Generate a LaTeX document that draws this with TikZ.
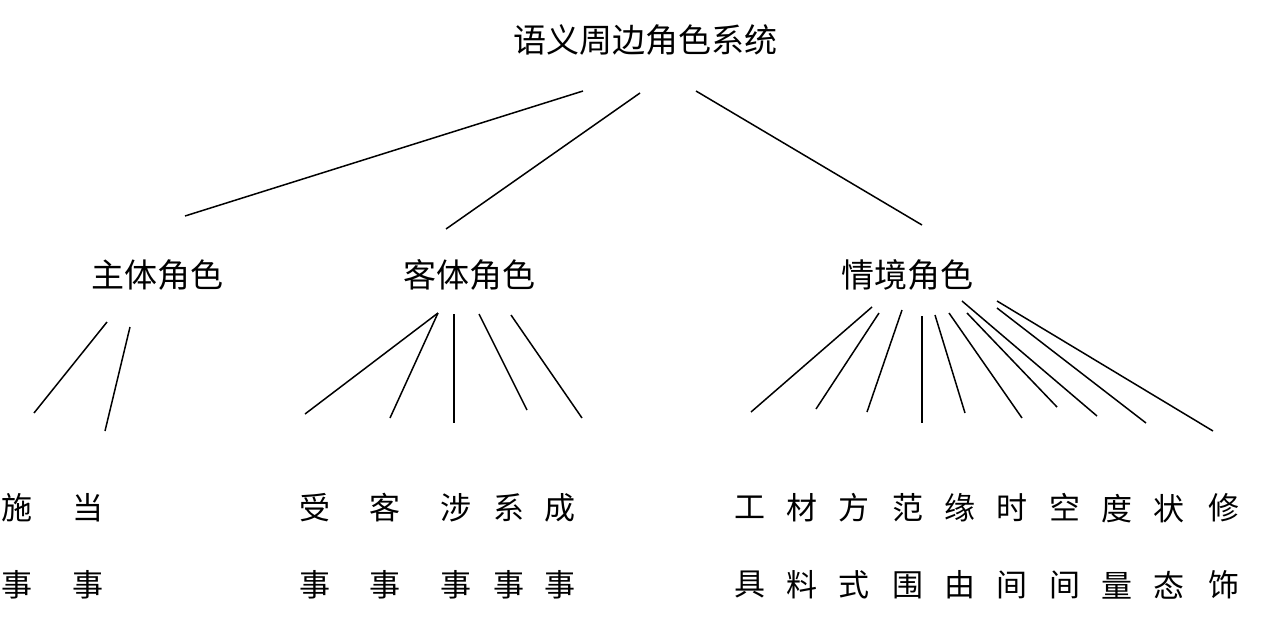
\documentclass[tikz,border=0pt]{standalone}
\usepackage{fontspec}
\setmainfont{Noto Sans CJK SC}
\usetikzlibrary{arrows,shapes}
\tikzstyle{toplabel}=[inner sep=0pt, font=\fontsize{33}{40}\selectfont]
\tikzstyle{rolelabel}=[inner sep=0pt, font=\fontsize{33}{40}\selectfont]
\tikzstyle{leaflabel}=[inner sep=0pt, align=center, font=\fontsize{31}{77}\selectfont]
\tikzstyle{branch} = [draw, line width=1.5pt]

\begin{document}
\begin{tikzpicture}[x=1pt, y=-1pt]

    \useasboundingbox (0,0) rectangle (1285,638);

    % top level and the three role groups
    \node[toplabel] (root) at (645,40) {语义周边角色系统};
    \foreach \pos/\name/\txt in {{(157,275)/zhuti/主体角色}, {(469,275)/keti/客体角色}, {(907,275)/qingjing/情境角色}}
        \node[rolelabel] (\name) at \pos {\txt};

    % leaves
    \def\y{546.5};
    \foreach \x/\name/\up in {17/shi/施, 88/dang/当, 315/shou/受, 385/ke/客, 456/she/涉, 509/xi/系, 560/cheng/成}
        \node[leaflabel] (\name) at (\x,\y) {\up\\事};
    \foreach \x/\name/\up/\down in {750/gong/工/具, 802/cai/材/料, 854/fang/方/式, 908/fan/范/围, 960/yuan/缘/由,
                                    1012/shi2/时/间, 1065/kong/空/间, 1117/du/度/量, 1169/zhuang/状/态, 1224/xiu/修/饰}
        \node[leaflabel] (\name) at (\x,\y) {\up\\\down};

    % line ends
    \foreach \a/\b/\name in {583/91/ra, 640/93/rb, 696/91/rc, 185/216/za, 446/229/ka, 922/225/qa}
        \coordinate (\name) at (\a,\b);
    \foreach \a/\b/\name in {107/322/z1, 130/327/z2, 34/413/zz1, 105/431/zz2}
        \coordinate (\name) at (\a,\b);
    \foreach \a/\b/\name in {438/313/k1, 454/314/k3, 479/314/k4, 511/315/k5,
                             305/414/kk1, 390/418/kk2, 454/423/kk3, 527/410/kk4, 582/418/kk5}
        \coordinate (\name) at (\a,\b);
    \foreach \a/\b/\name in {872/307/q1, 879/313/q2, 902/310/q3, 922/316/q4, 935/315/q5,
                             949/313/q6, 967/313/q7, 962/301/q8, 997/308/q9, 997/301/q10,
                             751/412/qq1, 816/409/qq2, 867/412/qq3, 922/423/qq4, 965/413/qq5,
                             1022/418/qq6, 1057/407/qq7, 1097/416/qq8, 1146/423/qq9, 1213/431/qq10}
        \coordinate (\name) at (\a,\b);

    \foreach \source/ \dest in {ra/za, rb/ka, rc/qa, z1/zz1, z2/zz2,
                                k1/kk1, k1/kk2, k3/kk3, k4/kk4, k5/kk5,
                                q1/qq1, q2/qq2, q3/qq3, q4/qq4, q5/qq5, q6/qq6, q7/qq7, q8/qq8, q9/qq9, q10/qq10}
        \path[branch] (\source) -- (\dest);

\end{tikzpicture}
\end{document}
